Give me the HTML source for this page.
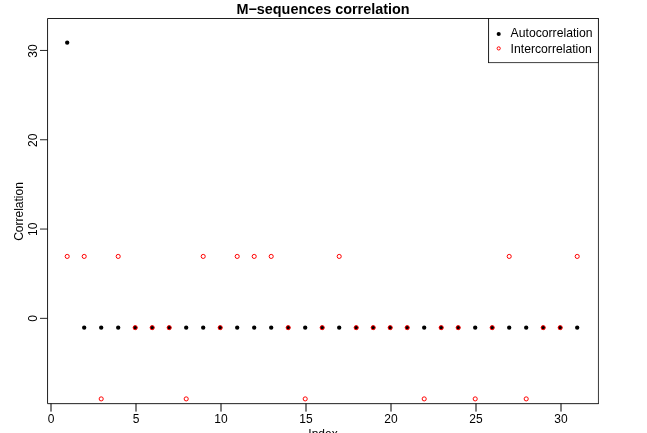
<!DOCTYPE html>
<html><head><meta charset="utf-8"><title>M-sequences correlation</title>
<style>html,body{margin:0;padding:0;background:#fff;overflow:hidden}svg{display:block}text{font-family:"Liberation Sans",sans-serif;fill:#000}</style></head><body>
<svg width="647" height="433" viewBox="0 0 647 433">
<rect x="0" y="0" width="647" height="433" fill="#fff"/>
<g fill="#000" stroke="none">
<circle cx="67.20" cy="42.69" r="2.15"/>
<circle cx="84.20" cy="327.65" r="2.15"/>
<circle cx="101.20" cy="327.65" r="2.15"/>
<circle cx="118.20" cy="327.65" r="2.15"/>
<circle cx="135.20" cy="327.65" r="2.15"/>
<circle cx="152.20" cy="327.65" r="2.15"/>
<circle cx="169.20" cy="327.65" r="2.15"/>
<circle cx="186.20" cy="327.65" r="2.15"/>
<circle cx="203.20" cy="327.65" r="2.15"/>
<circle cx="220.20" cy="327.65" r="2.15"/>
<circle cx="237.20" cy="327.65" r="2.15"/>
<circle cx="254.20" cy="327.65" r="2.15"/>
<circle cx="271.20" cy="327.65" r="2.15"/>
<circle cx="288.20" cy="327.65" r="2.15"/>
<circle cx="305.20" cy="327.65" r="2.15"/>
<circle cx="322.20" cy="327.65" r="2.15"/>
<circle cx="339.20" cy="327.65" r="2.15"/>
<circle cx="356.20" cy="327.65" r="2.15"/>
<circle cx="373.20" cy="327.65" r="2.15"/>
<circle cx="390.20" cy="327.65" r="2.15"/>
<circle cx="407.20" cy="327.65" r="2.15"/>
<circle cx="424.20" cy="327.65" r="2.15"/>
<circle cx="441.20" cy="327.65" r="2.15"/>
<circle cx="458.20" cy="327.65" r="2.15"/>
<circle cx="475.20" cy="327.65" r="2.15"/>
<circle cx="492.20" cy="327.65" r="2.15"/>
<circle cx="509.20" cy="327.65" r="2.15"/>
<circle cx="526.20" cy="327.65" r="2.15"/>
<circle cx="543.20" cy="327.65" r="2.15"/>
<circle cx="560.20" cy="327.65" r="2.15"/>
<circle cx="577.20" cy="327.65" r="2.15"/>
</g>
<g fill="none" stroke="#f00" stroke-width="1.0">
<circle cx="67.20" cy="256.42" r="2.05"/>
<circle cx="84.20" cy="256.42" r="2.05"/>
<circle cx="101.20" cy="398.89" r="2.05"/>
<circle cx="118.20" cy="256.42" r="2.05"/>
<circle cx="135.20" cy="327.65" r="2.05"/>
<circle cx="152.20" cy="327.65" r="2.05"/>
<circle cx="169.20" cy="327.65" r="2.05"/>
<circle cx="186.20" cy="398.89" r="2.05"/>
<circle cx="203.20" cy="256.42" r="2.05"/>
<circle cx="220.20" cy="327.65" r="2.05"/>
<circle cx="237.20" cy="256.42" r="2.05"/>
<circle cx="254.20" cy="256.42" r="2.05"/>
<circle cx="271.20" cy="256.42" r="2.05"/>
<circle cx="288.20" cy="327.65" r="2.05"/>
<circle cx="305.20" cy="398.89" r="2.05"/>
<circle cx="322.20" cy="327.65" r="2.05"/>
<circle cx="339.20" cy="256.42" r="2.05"/>
<circle cx="356.20" cy="327.65" r="2.05"/>
<circle cx="373.20" cy="327.65" r="2.05"/>
<circle cx="390.20" cy="327.65" r="2.05"/>
<circle cx="407.20" cy="327.65" r="2.05"/>
<circle cx="424.20" cy="398.89" r="2.05"/>
<circle cx="441.20" cy="327.65" r="2.05"/>
<circle cx="458.20" cy="327.65" r="2.05"/>
<circle cx="475.20" cy="398.89" r="2.05"/>
<circle cx="492.20" cy="327.65" r="2.05"/>
<circle cx="509.20" cy="256.42" r="2.05"/>
<circle cx="526.20" cy="398.89" r="2.05"/>
<circle cx="543.20" cy="327.65" r="2.05"/>
<circle cx="560.20" cy="327.65" r="2.05"/>
<circle cx="577.20" cy="256.42" r="2.05"/>
</g>
<g fill="none" stroke="#000" stroke-width="0.8" stroke-linejoin="round">
<path d="M598.45 403.65H47.55V18.5H598.45" stroke-width="0.88"/>
<path d="M598.45 18.5V403.65" stroke-width="0.78" stroke-linecap="round"/>
<line x1="51.00" y1="403.5" x2="51.00" y2="411.6" stroke-width="1"/>
<line x1="136.00" y1="403.5" x2="136.00" y2="411.6" stroke-width="1"/>
<line x1="221.00" y1="403.5" x2="221.00" y2="411.6" stroke-width="1"/>
<line x1="306.00" y1="403.5" x2="306.00" y2="411.6" stroke-width="1"/>
<line x1="391.00" y1="403.5" x2="391.00" y2="411.6" stroke-width="1"/>
<line x1="476.00" y1="403.5" x2="476.00" y2="411.6" stroke-width="1"/>
<line x1="561.00" y1="403.5" x2="561.00" y2="411.6" stroke-width="1"/>
<line x1="40" y1="318.35" x2="47.5" y2="318.35" stroke-width="0.85"/>
<line x1="40" y1="229.05" x2="47.5" y2="229.05" stroke-width="0.85"/>
<line x1="40" y1="139.75" x2="47.5" y2="139.75" stroke-width="0.85"/>
<line x1="40" y1="50.45" x2="47.5" y2="50.45" stroke-width="0.85"/>
</g>
<g font-size="12" text-anchor="middle">
<text x="51.00" y="423">0</text>
<text x="136.00" y="423">5</text>
<text x="221.00" y="423">10</text>
<text x="306.00" y="423">15</text>
<text x="391.00" y="423">20</text>
<text x="476.00" y="423">25</text>
<text x="561.00" y="423">30</text>
<text transform="translate(37.3 318.30) rotate(-90)">0</text>
<text transform="translate(37.3 229.30) rotate(-90)">10</text>
<text transform="translate(37.3 140.30) rotate(-90)">20</text>
<text transform="translate(37.3 51.00) rotate(-90)">30</text>
<text x="323" y="437.9">Index</text>
<text transform="translate(23.3 211.5) rotate(-90)">Correlation</text>
</g>
<text x="323" y="13.9" font-size="14.4" font-weight="bold" text-anchor="middle">M−sequences correlation</text>
<rect x="488.5" y="18.5" width="109.95" height="44" fill="#fff" stroke="none"/>
<path d="M488.55 18.5V62.55" fill="none" stroke="#000" stroke-width="0.88" stroke-linecap="round"/>
<path d="M488.55 62.6H598.45" fill="none" stroke="#000" stroke-width="0.75" stroke-linecap="round"/>
<path d="M488.55 18.5H598.45V62.6" fill="none" stroke="#000" stroke-width="0.78"/>
<circle cx="498.7" cy="34" r="2.05" fill="#000"/>
<circle cx="498.7" cy="48.4" r="1.6" fill="none" stroke="#f00" stroke-width="1.0"/>
<g font-size="12.2"><text x="510.6" y="36.9">Autocorrelation</text><text x="510.6" y="52.5">Intercorrelation</text></g>
</svg></body></html>
